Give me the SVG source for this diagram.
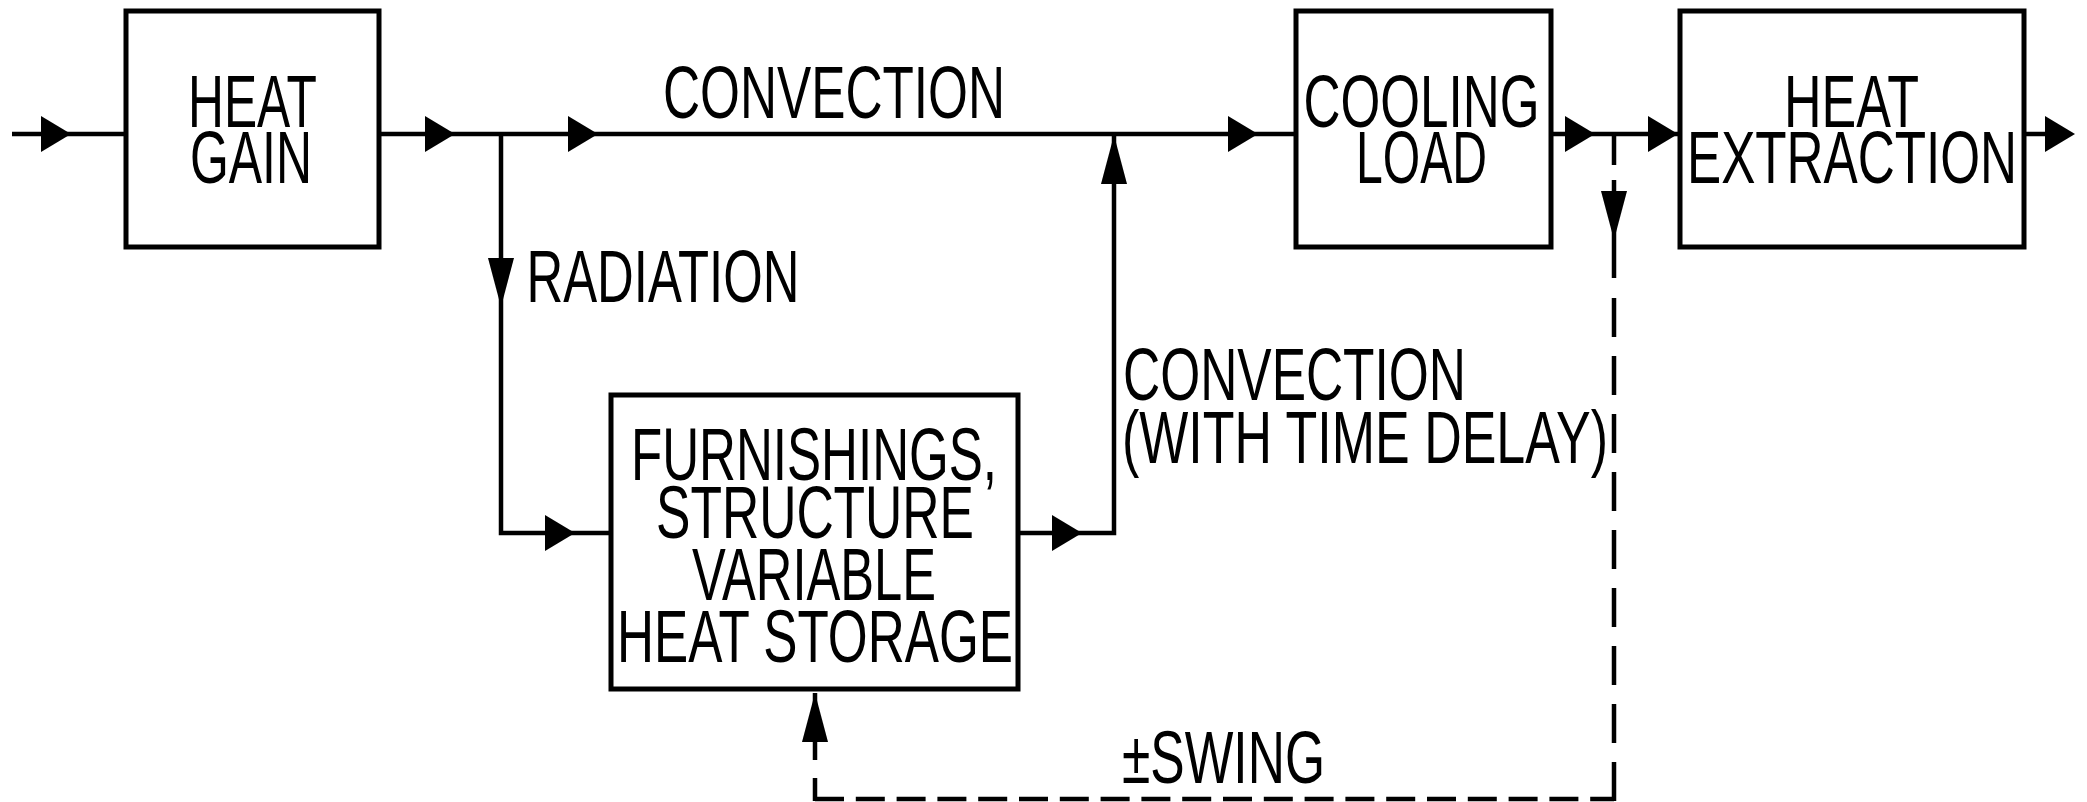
<svg xmlns="http://www.w3.org/2000/svg" xmlns:xlink="http://www.w3.org/1999/xlink" width="2087" height="802" viewBox="0 0 2087 802">
<style>
.box{fill:#fff;stroke:#000;stroke-width:5}
.ln{fill:none;stroke:#000;stroke-width:4.5}
.dh{stroke-dasharray:29 11.8}
.dv{stroke-dasharray:39 19}
.t{font-family:"Liberation Sans",Arial,sans-serif;font-size:74px;fill:#000}
.m{text-anchor:middle}
.ah{fill:#000}
</style>
<defs>
<path id="aR" d="M-30,-18 L0,0 L-30,18 Z"/>
<path id="aD" d="M-13,-49 L0,0 L13,-49 Z"/>
<path id="aU" d="M-13,49 L0,0 L13,49 Z"/>
</defs>
<rect width="2087" height="802" fill="#fff"/>
<g id="connectors">
<path class="ln" d="M12,134 H126"/>
<path class="ln" d="M379,134 H1296"/>
<path class="ln" d="M1551,134 H1680"/>
<path class="ln" d="M2024,134 H2046"/>
<path class="ln" d="M501,134 V533 H611"/>
<path class="ln" d="M1018,533 H1114 V134"/>
<path class="ln" d="M1614,134 V165 M1614,180 V278"/>
<path class="ln dv" d="M1614,298 V801"/>
<path class="ln dh" d="M815,799 H1614"/>
<path class="ln" d="M815,801 V778 M815,760 V693"/>
<g class="ah">
<use xlink:href="#aR" x="71" y="134"/>
<use xlink:href="#aR" x="455" y="134"/>
<use xlink:href="#aR" x="598" y="134"/>
<use xlink:href="#aR" x="1258" y="134"/>
<use xlink:href="#aR" x="1595" y="134"/>
<use xlink:href="#aR" x="1678" y="134"/>
<use xlink:href="#aR" x="2075" y="134"/>
<use xlink:href="#aR" x="575" y="533"/>
<use xlink:href="#aR" x="1082" y="533"/>
<use xlink:href="#aD" x="501" y="307"/>
<use xlink:href="#aD" x="1614" y="240"/>
<use xlink:href="#aU" x="1114" y="135"/>
<use xlink:href="#aU" x="815" y="693"/>
</g>
<g id="labels">
<text class="t m" x="834" y="118" textLength="342" lengthAdjust="spacingAndGlyphs">CONVECTION</text>
<text class="t m" x="663" y="302" textLength="273" lengthAdjust="spacingAndGlyphs">RADIATION</text>
<text class="t" x="1123" y="400" textLength="343" lengthAdjust="spacingAndGlyphs">CONVECTION</text>
<text class="t" x="1122" y="463" textLength="486" lengthAdjust="spacingAndGlyphs">(WITH TIME DELAY)</text>
<text class="t" x="1122" y="783" textLength="203" lengthAdjust="spacingAndGlyphs">±SWING</text>
</g>
</g>
<g id="heat-gain">
<rect class="box" x="126" y="11" width="253" height="236"/>
<text class="t m" x="252.5" y="127" textLength="129" lengthAdjust="spacingAndGlyphs">HEAT</text>
<text class="t m" x="251" y="183" textLength="122" lengthAdjust="spacingAndGlyphs">GAIN</text>
</g>
<g id="cooling-load">
<rect class="box" x="1296" y="11" width="255" height="236"/>
<text class="t m" x="1421.5" y="127" textLength="236" lengthAdjust="spacingAndGlyphs">COOLING</text>
<text class="t m" x="1421.5" y="183" textLength="131" lengthAdjust="spacingAndGlyphs">LOAD</text>
</g>
<g id="heat-extraction">
<rect class="box" x="1680" y="11" width="344" height="236"/>
<text class="t m" x="1851.5" y="127" textLength="135" lengthAdjust="spacingAndGlyphs">HEAT</text>
<text class="t m" x="1852" y="183" textLength="330" lengthAdjust="spacingAndGlyphs">EXTRACTION</text>
</g>
<g id="heat-storage">
<rect class="box" x="611" y="395" width="407" height="294"/>
<text class="t m" x="814" y="480" font-size="72" textLength="366" lengthAdjust="spacingAndGlyphs">FURNISHINGS,</text>
<text class="t m" x="815" y="538" font-size="68" textLength="318" lengthAdjust="spacingAndGlyphs">STRUCTURE</text>
<text class="t m" x="814" y="600" font-size="72" textLength="244" lengthAdjust="spacingAndGlyphs">VARIABLE</text>
<text class="t m" x="815" y="662" font-size="75" textLength="396" lengthAdjust="spacingAndGlyphs">HEAT STORAGE</text>
</g>
</svg>
